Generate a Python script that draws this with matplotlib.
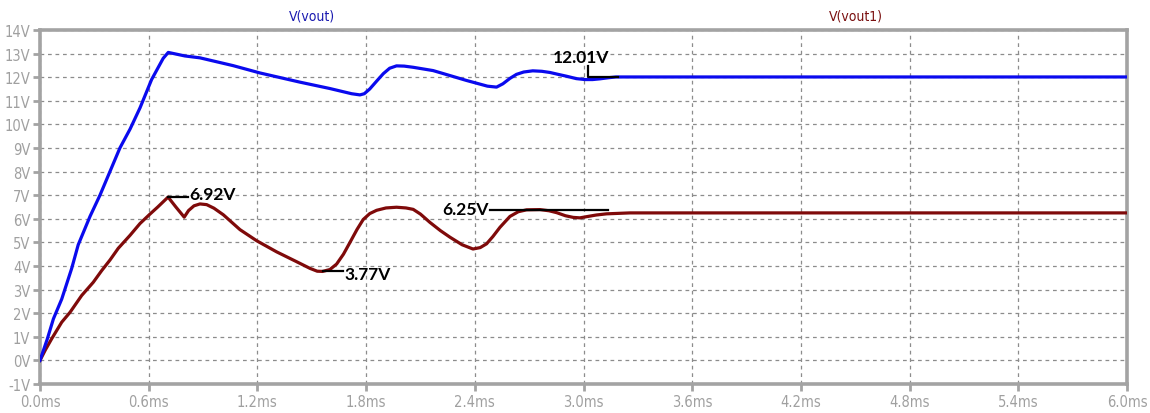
import matplotlib
matplotlib.use("Agg")
import matplotlib.pyplot as plt
from matplotlib.ticker import FixedLocator

# ---- data (time in ms, voltage in V) ----
t_vout = [0.0, 0.04, 0.074, 0.12, 0.175, 0.211, 0.276, 0.331, 0.386, 0.441,
          0.497, 0.552, 0.616, 0.68, 0.708, 0.8, 0.883, 1.066, 1.214, 1.435,
          1.60, 1.72, 1.766, 1.79, 1.82, 1.86, 1.895, 1.93, 1.968, 2.01,
          2.06, 2.17, 2.355, 2.47, 2.52, 2.555, 2.594, 2.63, 2.67, 2.72,
          2.77, 2.815, 2.86, 2.907, 2.96, 3.008, 3.05, 3.09, 3.14, 3.18,
          3.6, 4.2, 4.8, 5.4, 6.0]
v_vout = [0.0, 0.9, 1.76, 2.6, 3.9, 4.9, 6.1, 7.0, 8.0, 9.0,
          9.8, 10.7, 11.9, 12.8, 13.05, 12.9, 12.82, 12.49, 12.18, 11.79,
          11.52, 11.3, 11.25, 11.3, 11.5, 11.85, 12.15, 12.38, 12.48, 12.47,
          12.42, 12.28, 11.86, 11.62, 11.58, 11.72, 11.95, 12.12, 12.22, 12.27,
          12.25, 12.2, 12.12, 12.04, 11.94, 11.9, 11.9, 11.93, 11.98, 12.01,
          12.01, 12.01, 12.01, 12.01, 12.01]

t_vout1 = [0.0, 0.03, 0.064, 0.12, 0.166, 0.23, 0.294, 0.34, 0.386, 0.432,
           0.497, 0.552, 0.607, 0.65, 0.707, 0.75, 0.796, 0.82, 0.85, 0.883,
           0.92, 0.96, 1.012, 1.104, 1.196, 1.306, 1.417, 1.49, 1.53, 1.56,
           1.6, 1.637, 1.675, 1.711, 1.75, 1.784, 1.82, 1.858, 1.91, 1.968,
           2.02, 2.06, 2.10, 2.152, 2.21, 2.263, 2.33, 2.39, 2.43, 2.465,
           2.50, 2.539, 2.594, 2.64, 2.686, 2.76, 2.81, 2.852, 2.9, 2.943,
           2.98, 3.017, 3.07, 3.127, 3.256, 3.6, 4.2, 4.8, 5.4, 6.0]
v_vout1 = [0.0, 0.45, 0.91, 1.62, 2.04, 2.75, 3.31, 3.8, 4.25, 4.75,
           5.3, 5.8, 6.2, 6.5, 6.92, 6.5, 6.07, 6.35, 6.55, 6.63,
           6.6, 6.45, 6.17, 5.54, 5.07, 4.60, 4.18, 3.9, 3.78, 3.77,
           3.85, 4.08, 4.5, 5.0, 5.55, 5.97, 6.22, 6.36, 6.46, 6.49,
           6.46, 6.4, 6.2, 5.85, 5.5, 5.22, 4.9, 4.72, 4.78, 4.94,
           5.25, 5.64, 6.1, 6.3, 6.38, 6.39, 6.34, 6.26, 6.13, 6.06,
           6.04, 6.09, 6.16, 6.21, 6.25, 6.25, 6.25, 6.25, 6.25, 6.25]

x_ticks = [0.0, 0.6, 1.2, 1.8, 2.4, 3.0, 3.6, 4.2, 4.8, 5.4, 6.0]
x_tick_labels = [f"{v:.1f}ms" for v in x_ticks]
y_ticks = list(range(-1, 15))
y_tick_labels = [f"{v}V" for v in y_ticks]

# cursor readouts: (time, value)
peak_t, peak_v = 0.707, 6.92
dip_t, dip_v = 1.56, 3.77
settle1_v = 6.25
settle_v = 12.01

# ---- styling ----
frame_gray = "#a3a3a3"
grid_gray = "#8c8c8c"
blue = "#0a0aee"
maroon = "#7f0a0a"
tick_font = ["DejaVu Sans"]
note_font = ["Lato", "DejaVu Sans"]

fig = plt.figure(figsize=(11.5, 4.14), dpi=100)
ax = fig.add_axes([40 / 1150, 29 / 414, (1127 - 40) / 1150, (385 - 31) / 414])

ax.set_xlim(0, 6.0)
ax.set_ylim(-1, 14)

ax.plot(t_vout1, v_vout1, color=maroon, lw=2.3, solid_joinstyle="round", zorder=3)
ax.plot(t_vout, v_vout, color=blue, lw=2.3, solid_joinstyle="round", zorder=3)

ax.xaxis.set_major_locator(FixedLocator(x_ticks))
ax.yaxis.set_major_locator(FixedLocator(y_ticks))
ax.set_xticklabels(x_tick_labels)
ax.set_yticklabels(y_tick_labels)
ax.tick_params(axis="both", colors=frame_gray, width=2, length=5, direction="out",
               labelsize=10.5, labelcolor="#a0a0a0", pad=2)
for lab in ax.get_xticklabels() + ax.get_yticklabels():
    lab.set_family(tick_font)
    lab.set_stretch("condensed")

ax.grid(True, color=grid_gray, lw=0.9, linestyle=(0, (3, 3)))
for s in ax.spines.values():
    s.set_color(frame_gray)
    s.set_linewidth(2.6)

# trace names above the plot
fig.text(312 / 1150, 1 - 17 / 414, "V(vout)", color="#1a1ab0", fontsize=10,
         ha="center", va="center", family=tick_font, stretch="condensed")
fig.text(856 / 1150, 1 - 17 / 414, "V(vout1)", color="#7a1010", fontsize=10,
         ha="center", va="center", family=tick_font, stretch="condensed")

# cursor annotations
lw_note = 1.6
ax.plot([peak_t, 0.817], [peak_v, peak_v], color="black", lw=lw_note, zorder=4)
ax.text(0.825, peak_v + 0.15, f"{peak_v:.2f}V", fontsize=12.5, fontweight="bold",
        family=note_font, ha="left", va="center", zorder=5)

ax.plot([dip_t, 1.672], [dip_v, dip_v], color="black", lw=lw_note, zorder=4)
ax.text(1.68, dip_v - 0.12, f"{dip_v:.2f}V", fontsize=12.5, fontweight="bold",
        family=note_font, ha="left", va="center", zorder=5)

ax.plot([2.483, 3.135], [6.38, 6.38], color="black", lw=lw_note, zorder=4)
ax.text(2.475, 6.43, f"{settle1_v:.2f}V", fontsize=12.5, fontweight="bold",
        family=note_font, ha="right", va="center", zorder=5)

ax.plot([3.024, 3.024, 3.19], [settle_v + 0.47, settle_v, settle_v],
        color="black", lw=lw_note, zorder=4)
ax.text(2.986, settle_v + 0.85, f"{settle_v:.2f}V", fontsize=12.5, fontweight="bold",
        family=note_font, ha="center", va="center", zorder=5)

fig.savefig("out.png", dpi=100, facecolor="white")
